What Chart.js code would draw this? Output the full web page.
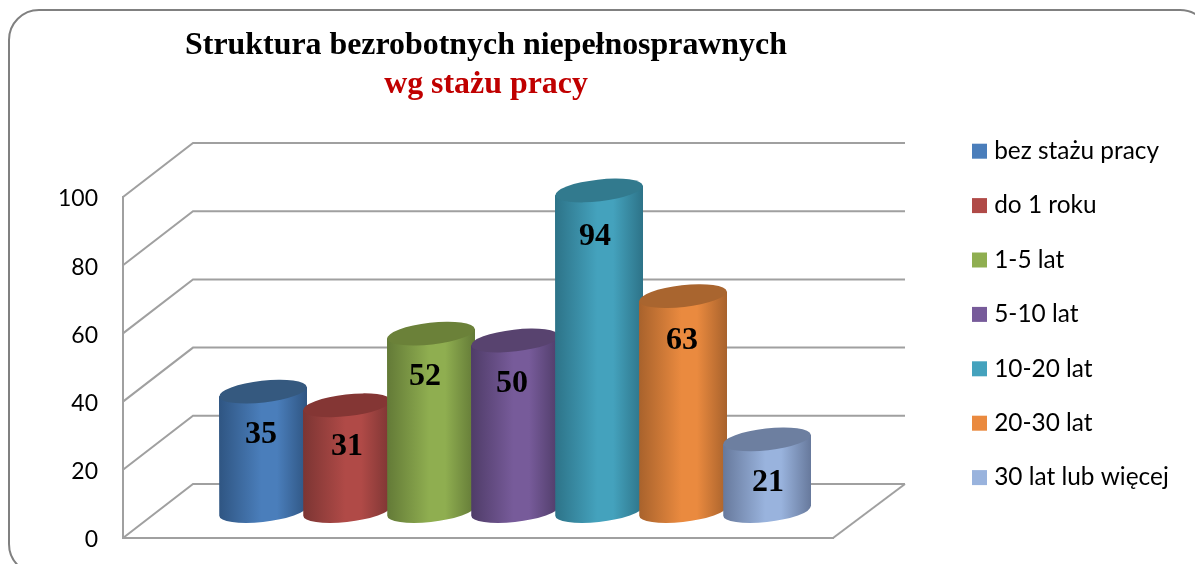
<!DOCTYPE html>
<html lang="pl">
<head>
<meta charset="utf-8">
<title>Struktura bezrobotnych niepełnosprawnych</title>
<script src="https://cdn.jsdelivr.net/npm/chart.js@4"></script>
<style>html,body{margin:0;padding:0;background:#fff}canvas{display:block}</style>
</head>
<body>
<canvas id="c" width="1195" height="564"></canvas>
<script>
const categories = ['Staż pracy'];
const seriesNames = ['bez stażu pracy', 'do 1 roku', '1-5 lat', '5-10 lat', '10-20 lat', '20-30 lat', '30 lat lub więcej'];
const seriesValues = [35, 31, 52, 50, 94, 63, 21];
const titleLine1 = 'Struktura bezrobotnych niepełnosprawnych';
const titleLine2 = 'wg stażu pracy';

const baseColors = ['#4a7ebb', '#b04a47', '#8fae50', '#775b9a', '#44a2bd', '#ea8a3f', '#99b3dd'];
const edgeColors = ['#2f5582', '#7c3533', '#637a37', '#4f3c68', '#2d7388', '#a8622c', '#67799c'];
const topColors  = ['#35597f', '#843634', '#6b8139', '#58436f', '#327a8e', '#a9652f', '#6d7fa0'];
const labelNudgeX = [-2, 0, -6, -3, -4, -1, 1];
const labelNudgeY = [43, 41, 43, 43, 46, 45, 43];

const DEPTH_X = 70, DEPTH_Y = 54;      // wall depth
const BAR_DX = 37, BAR_DY = -27;       // bars stand mid-way along the floor
const TILT = -6.5 * Math.PI / 180, RY = 10.9;
const WALL = '#a0a0a0';
const AREA_TOP = 197, AREA_BOTTOM = 538;

const frame = {
  id: 'frame',
  beforeDraw(chart) {
    const c = chart.ctx;
    c.save();
    c.fillStyle = '#fff';
    c.fillRect(0, 0, chart.width, chart.height);
    c.strokeStyle = '#808080';
    c.lineWidth = 2;
    c.beginPath();
    c.roundRect(9, 10, 1201, 564, 30);
    c.stroke();
    c.restore();
  }
};

const placeBoxes = {
  id: 'placeBoxes',
  afterLayout(chart) {
    const lg = chart.legend, pad = lg.options.labels.padding;
    lg.left = 977 - pad; lg.right = 1195; lg.width = lg.right - lg.left;
    lg.top = 139 - pad; lg.bottom = 564; lg.height = lg.bottom - lg.top;
    chart.boxes.forEach(b => {
      if (b.options && (b.options.text === titleLine1 || b.options.text === titleLine2)) {
        b.left = 0; b.right = 972; b.width = 972;
      }
    });
    const a = chart.chartArea, x = chart.scales.x, y = chart.scales.y;
    a.top = AREA_TOP; a.bottom = AREA_BOTTOM; a.height = AREA_BOTTOM - AREA_TOP;
    y.top = AREA_TOP; y.bottom = AREA_BOTTOM; y.height = a.height;
    y.configure();
    y._labelItems = null; y._gridLineItems = null;
    x.top = AREA_BOTTOM; x.bottom = AREA_BOTTOM; x.height = 0;
    x._labelItems = null; x._gridLineItems = null;
  }
};

const walls = {
  id: 'walls',
  beforeDatasetsDraw(chart) {
    const c = chart.ctx, y = chart.scales.y, a = chart.chartArea;
    const backRight = a.right + DEPTH_X + 2;
    c.save();
    c.strokeStyle = WALL;
    c.lineWidth = 2;
    y.ticks.forEach(t => {
      const py = y.getPixelForValue(t.value);
      c.beginPath();
      c.moveTo(a.left, py);
      c.lineTo(a.left + DEPTH_X, py - DEPTH_Y);
      c.lineTo(backRight, py - DEPTH_Y);
      c.stroke();
    });
    c.beginPath();
    c.moveTo(a.right, a.bottom);
    c.lineTo(backRight, a.bottom - DEPTH_Y);
    c.stroke();
    c.restore();
  }
};

const cylinders = {
  id: 'cylinders',
  beforeDatasetDraw() { return false; },
  afterDatasetsDraw(chart) {
    const c = chart.ctx;
    chart.data.datasets.forEach((ds, i) => {
      const bar = chart.getDatasetMeta(i).data[0];
      const cx = bar.x + BAR_DX, top = bar.y + BAR_DY, base = bar.base + BAR_DY, rx = bar.width / 2;
      const t0 = Math.atan(-(RY / rx) * Math.tan(TILT));
      const ex = rx * Math.cos(t0) * Math.sin(TILT) + RY * Math.sin(t0) * Math.cos(TILT);
      const g = c.createLinearGradient(cx - rx, 0, cx + rx, 0);
      g.addColorStop(0, edgeColors[i]);
      g.addColorStop(0.48, baseColors[i]);
      g.addColorStop(0.66, baseColors[i]);
      g.addColorStop(1, edgeColors[i]);
      c.save();
      c.fillStyle = g;
      c.beginPath();
      c.moveTo(cx + rx, top + ex);
      c.lineTo(cx + rx, base + ex);
      c.ellipse(cx, base, rx, RY, TILT, t0, t0 + Math.PI, false);
      c.lineTo(cx - rx, top - ex);
      c.closePath();
      c.fill();
      c.fillStyle = topColors[i];
      c.beginPath();
      c.ellipse(cx, top, rx, RY, TILT, 0, Math.PI * 2);
      c.fill();
      c.restore();
    });
    c.save();
    c.fillStyle = '#000';
    c.font = 'bold 32px "Liberation Serif"';
    c.textAlign = 'center';
    c.textBaseline = 'middle';
    chart.data.datasets.forEach((ds, i) => {
      const bar = chart.getDatasetMeta(i).data[0];
      c.fillText(String(ds.data[0]), bar.x + BAR_DX + labelNudgeX[i], bar.y + BAR_DY + labelNudgeY[i]);
    });
    c.restore();
  }
};

new Chart(document.getElementById('c'), {
  type: 'bar',
  data: {
    labels: categories,
    datasets: seriesNames.map((name, i) => ({
      label: name,
      data: [seriesValues[i]],
      backgroundColor: baseColors[i],
      barPercentage: 88 / 84,
      categoryPercentage: 588 / 710
    }))
  },
  plugins: [frame, placeBoxes, walls, cylinders],
  options: {
    responsive: false,
    animation: false,
    layout: { padding: { left: 0, right: 362, top: 0, bottom: 26 } },
    plugins: {
      tooltip: { enabled: false },
      title: {
        display: true, text: titleLine1, color: '#000',
        font: { family: '"Liberation Serif"', size: 31.9, weight: 'bold', lineHeight: 1.2 },
        padding: { top: 27, bottom: 0 }
      },
      subtitle: {
        display: true, text: titleLine2, color: '#c00000',
        font: { family: '"Liberation Serif"', size: 31.9, weight: 'bold', lineHeight: 1.2 },
        padding: { top: 0, bottom: 93 }
      },
      legend: {
        position: 'chartArea',
        align: 'start',
        labels: {
          usePointStyle: true, pointStyle: 'rect', boxWidth: 5, boxHeight: 15,
          padding: 30, color: '#000',
          font: { family: 'Lato', size: 24.4 }
        }
      }
    },
    scales: {
      x: {
        afterFit(s) { s.height = 0; },
        grid: { display: false },
        border: { display: true, color: WALL, width: 2 },
        ticks: { display: false }
      },
      y: {
        min: 0, max: 100,
        afterFit(s) { s.width = 123; },
        grid: { display: false },
        border: { display: true, color: WALL, width: 2 },
        ticks: { stepSize: 20, color: '#000', padding: 17, labelOffset: 2, font: { family: 'Lato', size: 23 } }
      }
    }
  }
});
</script>
</body>
</html>
